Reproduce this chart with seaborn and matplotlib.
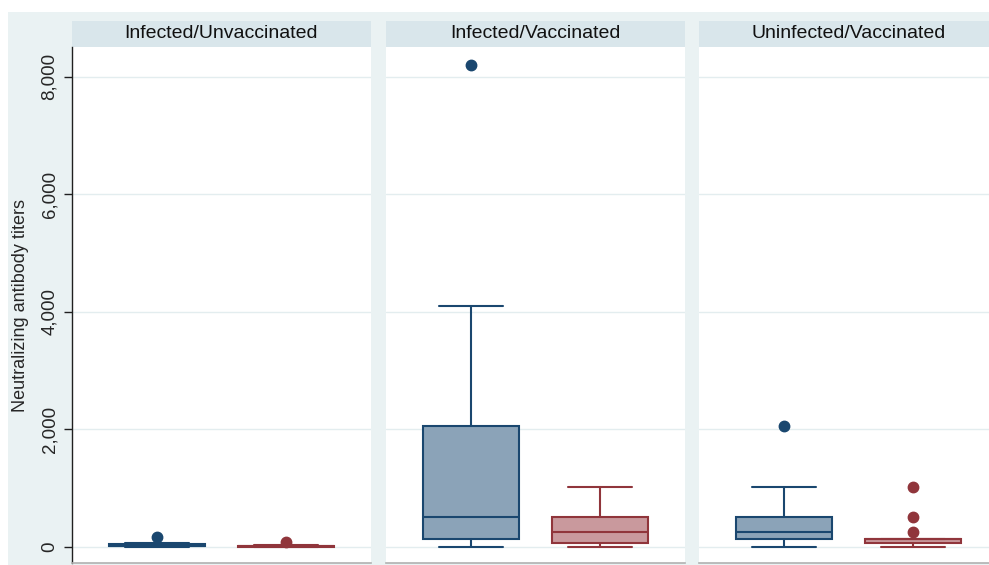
import matplotlib
matplotlib.use("Agg")
import matplotlib.pyplot as plt
import seaborn as sns
from matplotlib.patches import Rectangle

# ---------------- data ----------------
panels = ["Infected/Unvaccinated", "Infected/Vaccinated", "Uninfected/Vaccinated"]
groups = ["group1", "group2"]
whislo = [[0, 0], [0, 0], [0, 0]]
q1 = [[5, 0], [128, 64], [128, 64]]
med = [[20, 10], [512, 256], [256, 128]]
q3 = [[40, 20], [2048, 512], [512, 128]]
whishi = [[70, 30], [4096, 1024], [1024, 128]]
fliers = [[[160], [80]], [[8192], []], [[2048], [1024, 512, 256]]]
yticks = [0, 2000, 4000, 6000, 8000]
ylabel = "Neutralizing antibody titers"

# ---------------- style ----------------
sns.set_theme(style="white")
plt.rcParams["font.family"] = ["Liberation Sans", "DejaVu Sans"]

edge_cols = ["#1A476F", "#90353B"]
fill_cols = ["#8BA3B8", "#C9999D"]
bg = "#EAF2F3"
strip = "#D9E6EB"
grid = "#E3EDEF"

W, H = 989, 565
fig = plt.figure(figsize=(W / 100, H / 100), dpi=100)
fig.patch.set_facecolor("white")
fig.add_artist(Rectangle((8 / W, 0), 1, (H - 12) / H, transform=fig.transFigure,
                         facecolor=bg, edgecolor="none", zorder=-10))

panel_left = [72, 386, 699]
panel_w = 299
top_px, bot_px = 47, 563
strip_top = 21

ylim = (-(563 - 546.7) / 470 * 8000, 8000 + (76.7 - 47) / 470 * 8000)

for i, title in enumerate(panels):
    ax = fig.add_axes([panel_left[i] / W, (H - bot_px) / H, panel_w / W, (bot_px - top_px) / H])
    ax.set_facecolor("white")
    for j in range(len(groups)):
        st = dict(whislo=whislo[i][j], q1=q1[i][j], med=med[i][j], q3=q3[i][j],
                  whishi=whishi[i][j], fliers=fliers[i][j], label=groups[j])
        ax.bxp([st], positions=[j], widths=0.744, patch_artist=True, showfliers=True,
               boxprops=dict(facecolor=fill_cols[j], edgecolor=edge_cols[j], linewidth=1.5),
               medianprops=dict(color=edge_cols[j], linewidth=1.5),
               whiskerprops=dict(color=edge_cols[j], linewidth=1.5),
               capprops=dict(color=edge_cols[j], linewidth=1.5),
               capwidths=0.5,
               flierprops=dict(marker="o", markerfacecolor=edge_cols[j], markeredgecolor=edge_cols[j],
                               markersize=7.5))
    ax.set_xlim(-0.659, 1.659)
    ax.set_ylim(*ylim)
    ax.set_xticks([])
    ax.set_yticks(yticks)
    for t in yticks:
        ax.axhline(t, color=grid, linewidth=1.0, zorder=0)
    for s in ["top", "right"]:
        ax.spines[s].set_visible(False)
    ax.spines["bottom"].set_color("#B0B0B0")
    ax.spines["bottom"].set_linewidth(1.2)
    if i == 0:
        ax.spines["left"].set_color("#202020")
        ax.spines["left"].set_linewidth(1.0)
        ax.set_yticklabels([f"{t:,}" for t in yticks], rotation=90, va="center", fontsize=13.5)
        ax.tick_params(axis="y", left=True, length=6, width=1, color="#202020", pad=4)
        ax.set_ylabel(ylabel, fontsize=13, labelpad=9)
    else:
        ax.spines["left"].set_visible(False)
        ax.tick_params(axis="y", left=False, labelleft=False)
    # header strip
    fig.add_artist(Rectangle((panel_left[i] / W, (H - top_px) / H), panel_w / W,
                             (top_px - strip_top) / H, transform=fig.transFigure,
                             facecolor=strip, edgecolor="none", zorder=-5))
    fig.text((panel_left[i] + panel_w / 2) / W, (H - (top_px + strip_top) / 2) / H, title,
             ha="center", va="center", fontsize=14, color="#111111")

fig.savefig("out.png", dpi=100, facecolor=fig.get_facecolor())
